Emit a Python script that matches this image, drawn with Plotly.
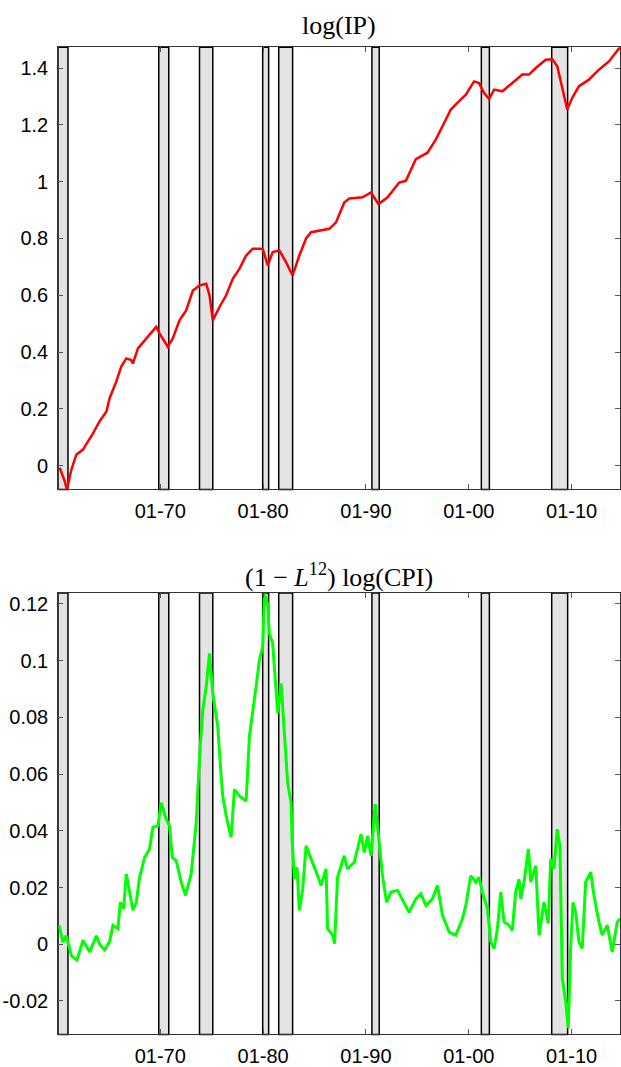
import plotly.graph_objects as go

# ---------------- data ----------------
ip_year = [1960.22, 1960.71, 1960.93, 1961.36, 1961.85, 1962.49, 1962.97, 1963.30, 1964.11, 1964.76,
           1965.08, 1965.73, 1966.21, 1966.70, 1967.18, 1967.34, 1967.83, 1968.64, 1969.61, 1969.93,
           1970.74, 1971.22, 1971.87, 1972.52, 1973.17, 1973.82, 1974.47, 1974.79, 1975.11, 1975.76,
           1976.41, 1977.05, 1977.70, 1978.35, 1978.99, 1979.96, 1980.45, 1980.93, 1981.58, 1982.23,
           1982.87, 1983.52, 1984.18, 1984.66, 1985.47, 1986.44, 1987.09, 1987.89, 1988.38, 1989.67,
           1990.49, 1991.22, 1992.10, 1993.23, 1993.88, 1994.85, 1995.98, 1996.80, 1997.44, 1998.25,
           1998.89, 1999.71, 2000.51, 2001.00, 2001.49, 2001.97, 2002.46, 2003.26, 2004.23, 2005.20,
           2005.85, 2006.51, 2007.48, 2008.12, 2008.60, 2009.09, 2009.57, 2010.06, 2010.71, 2011.68,
           2012.65, 2013.62, 2014.59, 2014.69]
ip_value = [-0.007, -0.054, -0.085, -0.013, 0.040, 0.057, 0.086, 0.104, 0.157, 0.190,
            0.238, 0.297, 0.349, 0.378, 0.372, 0.360, 0.413, 0.448, 0.489, 0.466,
            0.419, 0.448, 0.512, 0.547, 0.617, 0.635, 0.641, 0.600, 0.512, 0.559,
            0.600, 0.658, 0.693, 0.740, 0.764, 0.764, 0.705, 0.752, 0.758, 0.717,
            0.670, 0.740, 0.800, 0.822, 0.827, 0.834, 0.857, 0.927, 0.941, 0.945,
            0.962, 0.921, 0.945, 0.997, 1.003, 1.079, 1.102, 1.149, 1.195, 1.254,
            1.277, 1.306, 1.353, 1.347, 1.312, 1.291, 1.324, 1.318, 1.347, 1.377,
            1.377, 1.400, 1.429, 1.431, 1.406, 1.324, 1.254, 1.295, 1.336, 1.359,
            1.394, 1.423, 1.470, 1.473]

cpi_year = [1960.16, 1960.54, 1960.87, 1961.36, 1961.90, 1962.49, 1963.14, 1963.79, 1964.11, 1964.59,
            1965.08, 1965.40, 1965.88, 1966.12, 1966.44, 1966.70, 1967.34, 1967.67, 1967.99, 1968.48,
            1968.96, 1969.28, 1969.77, 1970.10, 1970.58, 1970.90, 1971.17, 1971.55, 1972.04, 1972.46,
            1973.01, 1973.50, 1973.82, 1974.14, 1974.47, 1974.79, 1975.11, 1975.59, 1975.92, 1976.08,
            1976.41, 1976.89, 1977.21, 1977.70, 1978.35, 1978.67, 1979.32, 1979.64, 1979.96, 1980.13,
            1980.45, 1980.61, 1980.93, 1981.42, 1981.75, 1982.07, 1982.39, 1982.72, 1982.82, 1983.04,
            1983.30, 1983.52, 1983.85, 1984.18, 1984.82, 1985.30, 1985.63, 1986.12, 1986.27, 1986.76,
            1986.95, 1987.24, 1987.89, 1988.21, 1988.86, 1989.52, 1989.84, 1990.16, 1990.49, 1990.90,
            1991.29, 1991.61, 1992.00, 1992.43, 1993.07, 1993.72, 1994.20, 1994.85, 1995.34, 1995.83,
            1996.47, 1996.95, 1997.44, 1998.09, 1998.74, 1999.38, 1999.71, 2000.19, 2000.68, 2001.00,
            2001.32, 2001.81, 2002.14, 2002.46, 2002.78, 2003.11, 2003.43, 2003.91, 2004.23, 2004.56,
            2004.88, 2005.05, 2005.37, 2005.79, 2006.02, 2006.51, 2006.83, 2007.31, 2007.73, 2007.96,
            2008.28, 2008.60, 2008.86, 2009.09, 2009.42, 2009.67, 2009.90, 2010.13, 2010.39, 2010.71,
            2011.03, 2011.36, 2011.85, 2012.17, 2012.65, 2012.97, 2013.46, 2013.94, 2014.43, 2014.69]
cpi_value = [0.0067, 0.0008, 0.0030, -0.0040, -0.0056, 0.0014, -0.0027, 0.0030, 0.0000, -0.0020,
             0.0010, 0.0067, 0.0055, 0.0148, 0.0125, 0.0248, 0.0120, 0.0148, 0.0236, 0.0306,
             0.0336, 0.0412, 0.0418, 0.0499, 0.0441, 0.0418, 0.0306, 0.0295, 0.0219, 0.0172,
             0.0248, 0.0429, 0.0663, 0.0827, 0.0909, 0.1026, 0.0885, 0.0768, 0.0593, 0.0523,
             0.0453, 0.0377, 0.0546, 0.0523, 0.0505, 0.0733, 0.0909, 0.1002, 0.1049, 0.1236,
             0.1200, 0.1096, 0.1061, 0.0815, 0.0920, 0.0733, 0.0569, 0.0499, 0.0371, 0.0230,
             0.0271, 0.0119, 0.0195, 0.0347, 0.0289, 0.0242, 0.0207, 0.0266, 0.0055, 0.0032,
             0.0002, 0.0236, 0.0312, 0.0266, 0.0289, 0.0388, 0.0324, 0.0382, 0.0312, 0.0494,
             0.0359, 0.0242, 0.0148, 0.0184, 0.0190, 0.0148, 0.0113, 0.0160, 0.0178, 0.0137,
             0.0160, 0.0207, 0.0102, 0.0043, 0.0032, 0.0090, 0.0137, 0.0242, 0.0219, 0.0236,
             0.0184, 0.0125, 0.0008, -0.0015, 0.0055, 0.0184, 0.0078, 0.0067, 0.0049, 0.0184,
             0.0230, 0.0160, 0.0219, 0.0336, 0.0219, 0.0277, 0.0032, 0.0148, 0.0073, 0.0301,
             0.0266, 0.0406, 0.0347, -0.0120, -0.0202, -0.0296, -0.0015, 0.0148, 0.0113, 0.0008,
             -0.0015, 0.0219, 0.0254, 0.0172, 0.0078, 0.0032, 0.0067, -0.0027, 0.0078, 0.0090]

rec_start = [1960.08, 1969.86, 1973.82, 1979.96, 1981.52, 1990.58, 2001.22, 2008.06]
rec_end = [1961.03, 1970.83, 1975.11, 1980.54, 1982.87, 1991.29, 2002.00, 2009.61]

x_tickvals = [1970, 1980, 1990, 2000, 2010]
x_ticktext = ["01-70", "01-80", "01-90", "01-00", "01-10"]
ip_tickvals = [0, 0.2, 0.4, 0.6, 0.8, 1.0, 1.2, 1.4]
ip_ticktext = ["0", "0.2", "0.4", "0.6", "0.8", "1", "1.2", "1.4"]
cpi_tickvals = [-0.02, 0, 0.02, 0.04, 0.06, 0.08, 0.10, 0.12]
cpi_ticktext = ["-0.02", "0", "0.02", "0.04", "0.06", "0.08", "0.1", "0.12"]

titles = ["log(IP)", "(1 \u2212 <i>L</i><sup>12</sup>) log(CPI)"]

# ---------------- figure ----------------
W, H = 621, 1067
fig = go.Figure()
fig.add_trace(go.Scatter(x=ip_year, y=ip_value, mode="lines",
                         line=dict(color="#ff0000", width=2.5), xaxis="x", yaxis="y",
                         hoverinfo="skip"))
fig.add_trace(go.Scatter(x=cpi_year, y=cpi_value, mode="lines",
                         line=dict(color="#00ff00", width=3), xaxis="x2", yaxis="y2",
                         hoverinfo="skip"))

shapes = []
for xr, yr in (("x", "y domain"), ("x2", "y2 domain")):
    for s, e in zip(rec_start, rec_end):
        shapes.append(dict(type="rect", xref=xr, yref=yr, x0=s, x1=e, y0=0, y1=1,
                           fillcolor="#e3e3e3", line=dict(color="black", width=1.5),
                           layer="below"))

tickfont = dict(family="Liberation Sans, Arial, sans-serif", size=20, color="black")
xdom = [58.3 / W, 1.0]
top_dom = [1 - 491.7 / H, 1 - 47.5 / H]
bot_dom = [1 - 1039.3 / H, 1 - 595.7 / H]

common_x = dict(range=[1960.08, 2014.70], tickmode="array", tickvals=x_tickvals,
                ticktext=x_ticktext, ticks="inside", ticklen=5, tickcolor="#555",
                showline=True, linecolor="#333", linewidth=1, mirror="ticks",
                showgrid=False, zeroline=False, tickfont=tickfont, ticklabelstandoff=4,
                domain=xdom)
common_y = dict(ticks="inside", ticklen=5, tickcolor="#555", showline=True,
                linecolor="#333", linewidth=1, mirror="ticks", showgrid=False,
                zeroline=False, tickfont=tickfont, tickmode="array", ticklabelstandoff=5)

title_font = dict(family="Liberation Serif, Times New Roman, serif", size=26, color="black")
fig.update_layout(
    width=W, height=H, margin=dict(l=0, r=0, t=0, b=0),
    paper_bgcolor="white", plot_bgcolor="white", showlegend=False,
    xaxis=dict(common_x, anchor="y"),
    yaxis=dict(common_y, domain=top_dom, range=[-0.083, 1.473],
               tickvals=ip_tickvals, ticktext=ip_ticktext, anchor="x"),
    xaxis2=dict(common_x, anchor="y2"),
    yaxis2=dict(common_y, domain=bot_dom, range=[-0.0318, 0.1239],
                tickvals=cpi_tickvals, ticktext=cpi_ticktext, anchor="x2"),
    shapes=shapes,
    annotations=[
        dict(text=titles[0], x=(58.3 + W) / 2 / W, y=1 - 26 / H, xref="paper", yref="paper",
             xanchor="center", yanchor="middle", showarrow=False, font=title_font),
        dict(text=titles[1], x=(58.3 + W) / 2 / W, y=1 - 578 / H, xref="paper", yref="paper",
             xanchor="center", yanchor="middle", showarrow=False, font=title_font),
    ],
)

fig.write_html(
    "out.html",
    config={"displayModeBar": False, "staticPlot": True},
    post_script="document.body.style.margin='0';document.body.style.overflow='hidden';",
)
